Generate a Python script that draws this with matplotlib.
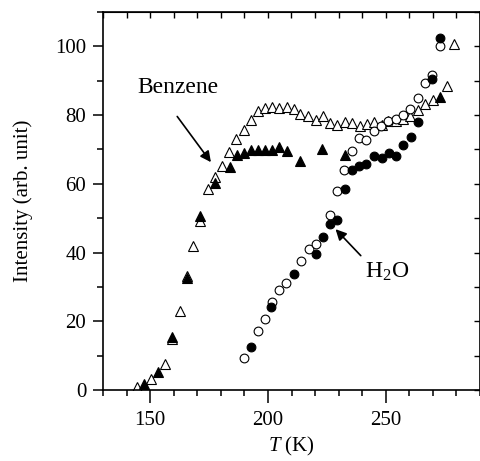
import numpy as np
import matplotlib
matplotlib.use('Agg')
import matplotlib.pyplot as plt
from matplotlib.ticker import MultipleLocator

plt.rcParams['font.family'] = 'Liberation Serif'
plt.rcParams['mathtext.fontset'] = 'custom'
plt.rcParams['mathtext.rm'] = 'Liberation Serif'
plt.rcParams['mathtext.it'] = 'Liberation Serif:italic'

# benzene, open triangles
benz_open_T = [144.3, 150.4, 156.4, 159.3, 162.5, 165.6, 168.4, 171.3, 174.5, 177.4,
               180.5, 183.5, 186.6, 189.7, 192.7, 195.7, 198.9, 201.8, 204.6, 207.9,
               211.0, 213.8, 216.9, 220.2, 223.3, 226.3, 229.4, 232.6, 235.5, 238.9,
               241.9, 245.0, 248.2, 251.1, 254.3, 257.4, 260.3, 263.5, 266.6, 269.9,
               275.8, 279.1]
benz_open_I = [1.0, 3.1, 7.6, 14.8, 23.0, 33.3, 41.8, 49.3, 58.6, 62.0,
               65.3, 69.3, 72.9, 75.6, 78.5, 81.1, 82.1, 82.4, 82.1, 82.4,
               81.8, 80.4, 79.7, 78.7, 79.7, 77.6, 77.0, 78.0, 77.6, 76.8,
               77.5, 77.9, 77.0, 78.2, 78.2, 79.0, 79.7, 81.6, 83.3, 84.3,
               88.6, 100.6]

# benzene, filled triangles
benz_fill_T = [147.4, 153.5, 159.2, 165.6, 171.3, 177.7, 183.8, 186.9, 190.0, 192.8,
               195.7, 198.9, 201.8, 204.6, 207.9, 213.8, 223.1, 232.6, 273.0]
benz_fill_I = [1.7, 5.2, 15.3, 32.6, 50.5, 60.3, 64.8, 68.5, 69.0, 69.8,
               69.7, 69.7, 69.7, 70.6, 69.5, 66.6, 70.0, 68.5, 85.2]

# water, open circles
h2o_open_T = [189.7, 195.6, 198.6, 201.8, 204.6, 207.8, 213.9, 217.4, 220.2, 226.3,
              229.4, 232.3, 235.5, 238.6, 241.8, 245.0, 248.0, 251.1, 254.3, 257.4,
              260.5, 263.5, 266.5, 269.8, 272.9]
h2o_open_I = [9.2, 17.2, 20.6, 25.7, 29.2, 31.1, 37.4, 41.1, 42.6, 51.0,
              57.8, 63.9, 69.5, 73.4, 72.7, 75.3, 76.8, 78.2, 78.8, 80.0,
              81.8, 85.0, 89.4, 91.8, 100.2]

# water, filled circles
h2o_fill_T = [192.6, 201.5, 211.0, 220.2, 223.5, 226.3, 229.4, 232.6, 235.5, 238.6,
              241.8, 245.0, 248.2, 251.2, 254.3, 257.5, 260.6, 263.6, 269.8, 272.9]
h2o_fill_I = [12.6, 24.2, 33.9, 39.7, 44.5, 48.3, 49.6, 58.4, 64.1, 65.1,
              65.9, 68.0, 67.4, 69.1, 68.2, 71.2, 73.6, 77.9, 90.6, 102.5]

fig = plt.figure(figsize=(4.81, 4.61), dpi=100)
ax = fig.add_axes([103/481, 1-390/461, 377/481, 378/461])

ax.plot(benz_open_T, benz_open_I, '^', ms=7.5, mfc='white', mec='black', mew=0.8)
ax.plot(benz_fill_T, benz_fill_I, '^', ms=7.5, mfc='black', mec='black', mew=0.8)
ax.plot(h2o_open_T, h2o_open_I, 'o', ms=6.3, mfc='white', mec='black', mew=0.8)
ax.plot(h2o_fill_T, h2o_fill_I, 'o', ms=6.3, mfc='black', mec='black', mew=0.8)

ax.set_xlim(130, 290)
ax.set_ylim(0, 110)
ax.xaxis.set_major_locator(MultipleLocator(50))
ax.xaxis.set_minor_locator(MultipleLocator(10))
ax.yaxis.set_major_locator(MultipleLocator(20))
ax.yaxis.set_minor_locator(MultipleLocator(10))
ax.tick_params(which='both', direction='out', labelsize=15, width=1.1)
ax.tick_params(axis='x', which='major', length=9, pad=6)
ax.tick_params(axis='x', which='minor', length=4.5)
ax.tick_params(axis='y', which='major', length=7, pad=5)
ax.tick_params(axis='y', which='minor', length=4)
for s in ax.spines.values():
    s.set_linewidth(1.2)

# inward ticks on the top and right frame
top = ax.secondary_xaxis('top')
top.xaxis.set_major_locator(MultipleLocator(10))
top.tick_params(direction='in', length=4, width=1, labeltop=False)
right = ax.secondary_yaxis('right')
right.yaxis.set_major_locator(MultipleLocator(10))
right.tick_params(direction='in', length=4, width=1, labelright=False)

ax.set_xlabel(r'$T$ (K)', fontsize=15, labelpad=4)
ax.set_ylabel('Intensity (arb. unit)', fontsize=15, labelpad=16)

arrow = dict(arrowstyle='-|>', color='black', lw=1.2, mutation_scale=16, shrinkA=0, shrinkB=0)
ax.text(162, 88, 'Benzene', fontsize=17, ha='center', va='center')
ax.annotate('', xy=(175.8, 66.3), xytext=(161.5, 79.6), arrowprops=arrow)
ax.text(250.5, 34.4, 'H$_2$O', fontsize=17, ha='center', va='center')
ax.annotate('', xy=(228.7, 46.8), xytext=(239.4, 39.1), arrowprops=arrow)

fig.savefig('out.png', dpi=100)
